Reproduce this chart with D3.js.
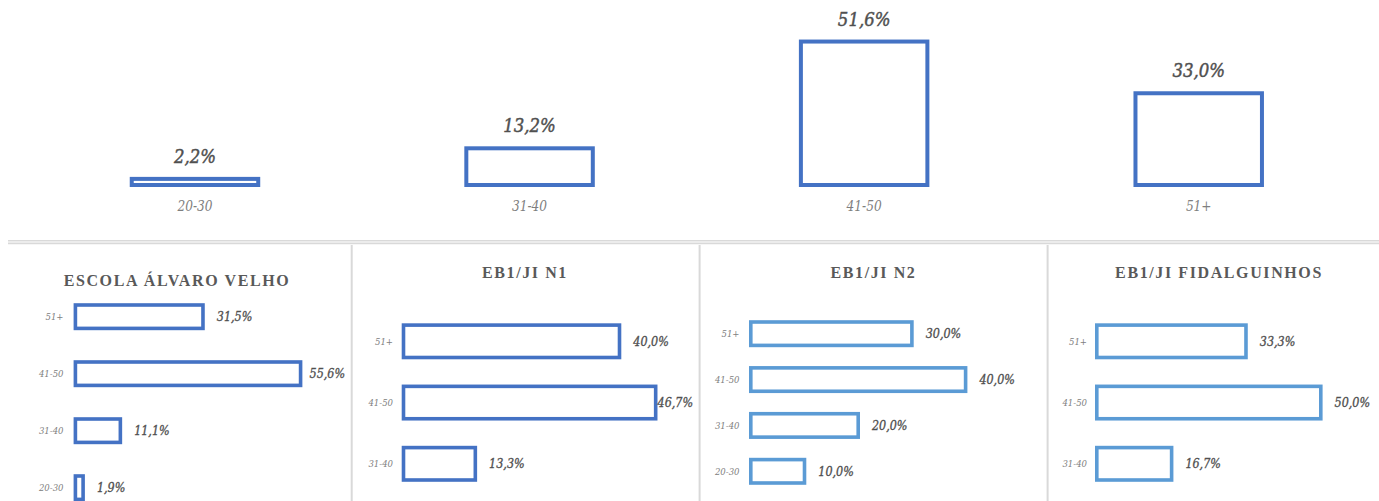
<!DOCTYPE html>
<html><head><meta charset="utf-8">
<script src="https://cdn.jsdelivr.net/npm/d3@7"></script>
<style>body{margin:0;background:#fff}svg{display:block}</style>
</head><body>
<svg id="c" width="1379" height="501"></svg>
<script>
// ---- data ----
const categories = ["20-30", "31-40", "41-50", "51+"];
const overallValues = [2.2, 13.2, 51.6, 33.0];

const schoolNames = ["ESCOLA ÁLVARO VELHO", "EB1/JI N1", "EB1/JI N2", "EB1/JI FIDALGUINHOS"];
const alvaroVelhoCats = ["20-30", "31-40", "41-50", "51+"];
const alvaroVelhoValues = [1.9, 11.1, 55.6, 31.5];
const n1Cats = ["31-40", "41-50", "51+"];
const n1Values = [13.3, 46.7, 40.0];
const n2Cats = ["20-30", "31-40", "41-50", "51+"];
const n2Values = [10.0, 20.0, 40.0, 30.0];
const fidalguinhosCats = ["31-40", "41-50", "51+"];
const fidalguinhosValues = [16.7, 50.0, 33.3];

const fmt = v => d3.format(".1f")(v).replace(".", ",") + "%";

const svg = d3.select("#c");
const SERIF = "'Liberation Serif','Times New Roman',serif";
const SERIF2 = "'DejaVu Serif',serif";

function condText(g, x, y, str, opts) {
  const t = g.append("text")
    .attr("transform", `translate(${x},${y}) scale(${opts.sx || 1},1)`)
    .attr("text-anchor", opts.anchor || "start")
    .attr("font-family", opts.family || SERIF2)
    .attr("font-style", "italic")
    .attr("font-weight", opts.weight || "normal")
    .attr("font-size", opts.size)
    .attr("fill", opts.fill)
    .text(str);
  if (opts.stroke) t.attr("stroke", opts.fill).attr("stroke-width", opts.stroke);
  return t;
}

// ---- top chart ----
const topG = svg.append("g");
const xTop = d3.scaleBand().domain(categories).range([27.7, 1366]).paddingInner(0.61).paddingOuter(0.305);
const yTop = d3.scaleLinear().domain([0, 100]).range([185, 185 - 278]);
const topColor = "#4472C4";
categories.forEach((c, i) => {
  const v = overallValues[i];
  const x = xTop(c), w = xTop.bandwidth();
  topG.append("rect")
    .attr("x", x + 2).attr("y", yTop(v))
    .attr("width", w - 4).attr("height", yTop(0) - yTop(v))
    .attr("fill", "#fff").attr("stroke", topColor).attr("stroke-width", 4);
  condText(topG, x + w / 2, yTop(v) - 16, fmt(v), {size: 18, sx: 0.92, stroke: 0.45, anchor: "middle", fill: "#505050"});
  condText(topG, x + w / 2, 211, c, {size: 14.5, sx: 0.84, anchor: "middle", fill: "#7f7f7f"});
});

// ---- separators ----
svg.append("line").attr("x1", 8).attr("x2", 1379).attr("y1", 240.7).attr("y2", 240.7).attr("stroke", "#d9d9d9").attr("stroke-width", 1.6);
svg.append("line").attr("x1", 8).attr("x2", 1379).attr("y1", 243.4).attr("y2", 243.4).attr("stroke", "#d9d9d9").attr("stroke-width", 1.6);
[351.7, 699.6, 1047.6].forEach(x => {
  svg.append("line").attr("x1", x).attr("x2", x).attr("y1", 245).attr("y2", 501).attr("stroke", "#d9d9d9").attr("stroke-width", 2);
});

// ---- small panels ----
const panels = [
  {name: schoolNames[0], cats: alvaroVelhoCats, vals: alvaroVelhoValues, color: "#4472C4",
   cx: 177, titleY: 285.7, x0: 75.4, k: 4.05, rowTop: 316.7, rowBot: 487.7, barH: 27, catX: 63.5, right: 345},
  {name: schoolNames[1], cats: n1Cats, vals: n1Values, color: "#4472C4",
   cx: 525, titleY: 277.5, x0: 403.5, k: 5.4, rowTop: 341.3, rowBot: 463.8, barH: 36, catX: 393, right: 693},
  {name: schoolNames[2], cats: n2Cats, vals: n2Values, color: "#5B9BD5",
   cx: 873.5, titleY: 277.5, x0: 750.8, k: 5.37, rowTop: 333.7, rowBot: 471.3, barH: 27, catX: 739.5, right: 1041},
  {name: schoolNames[3], cats: fidalguinhosCats, vals: fidalguinhosValues, color: "#5B9BD5",
   cx: 1219, titleY: 277.5, x0: 1096.8, k: 4.48, rowTop: 341.3, rowBot: 463.8, barH: 36, catX: 1087, right: 1372}
];

panels.forEach(p => {
  const g = svg.append("g");
  g.append("text").attr("x", p.cx).attr("y", p.titleY)
    .attr("text-anchor", "middle").attr("font-family", SERIF).attr("font-weight", "bold")
    .attr("font-size", 16).attr("letter-spacing", 1.6).attr("fill", "#595959").text(p.name);
  const x = d3.scaleLinear().domain([0, 100]).range([p.x0, p.x0 + 100 * p.k]);
  const y = d3.scalePoint().domain(p.cats.slice().reverse()).range([p.rowTop, p.rowBot]);
  const sw = 3.6;
  const vsx = 0.86;
  p.cats.forEach((c, i) => {
    const v = p.vals[i];
    const yc = y(c);
    g.append("rect")
      .attr("x", x(0)).attr("y", yc - p.barH / 2 + sw / 2)
      .attr("width", x(v) - x(0)).attr("height", p.barH - sw)
      .attr("fill", "#fff").attr("stroke", p.color).attr("stroke-width", sw);
    condText(g, p.catX, yc + 3.5, c, {size: 9.5, sx: 0.9, anchor: "end", fill: "#808080"});
    const t = condText(g, 0, 0, fmt(v), {size: 13, sx: vsx, stroke: 0.35, fill: "#505050"});
    const w = t.node().getComputedTextLength() * vsx;
    let lx = x(v) + sw / 2 + 12;
    if (lx + w > p.right) lx = p.right - w;
    t.attr("transform", `translate(${lx},${yc + 4.5}) scale(${vsx},1)`);
  });
});
</script>
</body></html>
